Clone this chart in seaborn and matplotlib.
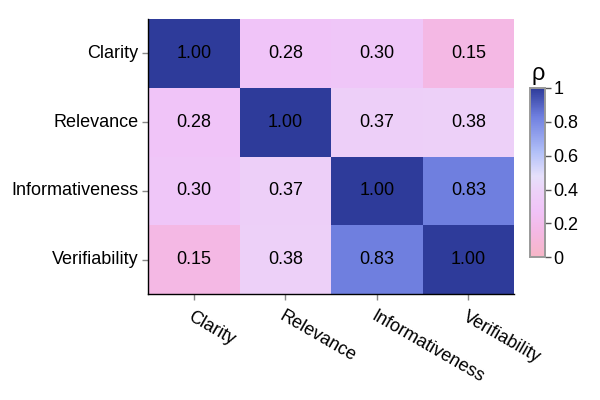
import numpy as np
import pandas as pd
import matplotlib
matplotlib.use("Agg")
import matplotlib.pyplot as plt
import seaborn as sns
from matplotlib.colors import LinearSegmentedColormap
from matplotlib.ticker import FuncFormatter

# Data
metrics = ["Clarity", "Relevance", "Informativeness", "Verifiability"]
row_clarity = [1.00, 0.28, 0.30, 0.15]
row_relevance = [0.28, 1.00, 0.37, 0.38]
row_informativeness = [0.30, 0.37, 1.00, 0.83]
row_verifiability = [0.15, 0.38, 0.83, 1.00]
cbar_ticks = [0, 0.2, 0.4, 0.6, 0.8, 1.0]

df = pd.DataFrame([row_clarity, row_relevance, row_informativeness, row_verifiability],
                  index=metrics, columns=metrics)

sns.set_theme(style="white")
plt.rcParams['font.family'] = ['Liberation Sans', 'DejaVu Sans']
plt.rcParams['text.color'] = 'black'
plt.rcParams['xtick.color'] = 'black'
plt.rcParams['ytick.color'] = 'black'

# pink -> lavender -> blue
cmap = LinearSegmentedColormap.from_list("rho", [
    (0.00, "#f6b6c6"),
    (0.15, "#f4b8e4"),
    (0.28, "#f0c4f8"),
    (0.38, "#edd0f8"),
    (0.48, "#e6e0fb"),
    (0.62, "#b2c0f8"),
    (0.83, "#7080e0"),
    (1.00, "#2e3b9a"),
])

fig = plt.figure(figsize=(6, 4), dpi=100)
ax = fig.add_axes([0.247, 0.265, 0.61, 0.6875])
cax = fig.add_axes([0.884, 0.357, 0.024, 0.423])

sns.heatmap(df, ax=ax, cbar_ax=cax, cmap=cmap, vmin=0, vmax=1,
            annot=True, fmt=".2f", annot_kws={"size": 13, "color": "black"},
            cbar_kws={"ticks": cbar_ticks})

ax.tick_params(axis="both", length=4, width=1, color="#888888", labelsize=13,
               labelcolor="black", left=True, bottom=True)
ax.tick_params(axis="x", pad=6)
ax.tick_params(axis="y", pad=3)
plt.setp(ax.get_yticklabels(), rotation=0)
plt.setp(ax.get_xticklabels(), rotation=-30, ha="left", rotation_mode="anchor")
for side in ["left", "bottom"]:
    ax.spines[side].set_visible(True)
    ax.spines[side].set_color("black")
    ax.spines[side].set_linewidth(1)
ax.set_xlabel("")
ax.set_ylabel("")

cax.yaxis.set_major_formatter(FuncFormatter(lambda v, p: f"{v:g}"))
cax.tick_params(length=4, width=1, color="#555555", labelsize=13, labelcolor="black",
                pad=2, right=True)
for s in cax.spines.values():
    s.set_visible(True)
    s.set_color("#999999")
    s.set_linewidth(1.2)
cax.set_title("ρ", fontsize=17, loc="left", pad=6, x=0.05)

fig.savefig("out.png", dpi=100)
